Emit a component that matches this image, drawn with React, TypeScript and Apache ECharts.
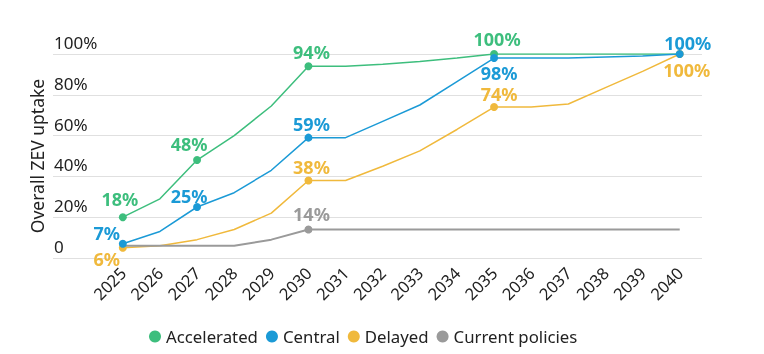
import React, { useEffect, useRef } from "react";
import * as echarts from "echarts";

const years = [2025, 2026, 2027, 2028, 2029, 2030, 2031, 2032, 2033, 2034, 2035, 2036, 2037, 2038, 2039, 2040];
const accelerated = [20, 29, 48, 60, 74.5, 94, 94, 95, 96.3, 98, 100, 100, 100, 100, 100, 100];
const central = [7, 13, 25, 32, 43, 59, 59, 67, 75, 86.5, 98, 98, 98, 98.5, 99, 100];
const delayed = [5, 6, 9, 14, 22, 38, 38, 45, 52.5, 63, 74, 74, 75.5, 83.5, 91.5, 100];
const currentPolicies = [6, 6, 6, 6, 9, 14, 14, 14, 14, 14, 14, 14, 14, 14, 14, 14];

const accelLabels: Record<number, string> = { 2025: "18%", 2027: "48%", 2030: "94%", 2035: "100%" };
const centralLabels: Record<number, string> = { 2025: "7%", 2027: "25%", 2030: "59%", 2035: "98%", 2040: "100%" };
const delayedLabels: Record<number, string> = { 2025: "6%", 2030: "38%", 2035: "74%", 2040: "100%" };
const currentLabels: Record<number, string> = { 2030: "14%" };

const yTicks = [0, 20, 40, 60, 80, 100];
const seriesNames = ["Accelerated", "Central", "Delayed", "Current policies"];

// styles (label offsets relative to the point, in px)
const accelOffsets: Record<number, number[]> = { 2025: [-3, -18], 2027: [-8, -16], 2030: [3, -14], 2035: [3, -15] };
const centralOffsets: Record<number, number[]> = { 2025: [-16, -11], 2027: [-8, -11], 2030: [3, -14], 2035: [5, 15], 2040: [8, -11] };
const delayedOffsets: Record<number, number[]> = { 2025: [-16, 11], 2030: [3, -13], 2035: [5, -13], 2040: [7, 16] };
const currentOffsets: Record<number, number[]> = { 2030: [3, -15] };

const COLORS = ["#3dbe7d", "#1b9ad6", "#f0b93c", "#9a9a9a"];
const FONT = "Noto Sans";

function buildData(values: number[], labels: Record<number, string>, offsets: Record<number, number[]>, color: string) {
  return years.map((yr, i) => {
    const txt = labels[yr];
    if (txt === undefined) {
      return { value: [yr, values[i]], symbol: "none", label: { show: false } };
    }
    return {
      value: [yr, values[i]],
      symbol: "circle",
      symbolSize: 8,
      label: {
        show: true,
        position: "inside",
        offset: offsets[yr] || [0, 0],
        formatter: txt,
        color,
        fontSize: 18,
        fontWeight: "bold",
        fontFamily: FONT,
      },
    };
  });
}

export default function App() {
  const ref = useRef<HTMLDivElement>(null);
  useEffect(() => {
    if (!ref.current) return;
    const chart = echarts.init(ref.current, undefined, { renderer: "svg" });
    const mk = (idx: number, values: number[], labels: Record<number, string>, offsets: Record<number, number[]>, z: number, width: number) => ({
      name: seriesNames[idx],
      type: "line",
      data: buildData(values, labels, offsets, COLORS[idx]),
      color: COLORS[idx],
      lineStyle: { width, color: COLORS[idx] },
      itemStyle: { color: COLORS[idx] },
      showAllSymbol: true,
      z,
      emphasis: { disabled: true },
    });
    chart.setOption({
      animation: false,
      textStyle: { fontFamily: FONT },
      grid: { left: 53, right: 62, top: 54, bottom: 96, containLabel: false },
      legend: {
        data: seriesNames.map((n, i) => ({ name: n, itemStyle: { color: COLORS[i] } })),
        left: 149,
        top: 328,
        padding: 0,
        icon: "circle",
        itemWidth: 12,
        itemHeight: 12,
        itemGap: 8,
        textStyle: { fontSize: 16.8, color: "#222", fontFamily: FONT },
      },
      xAxis: {
        type: "value",
        min: 2023.12,
        max: 2040.6,
        axisLine: { show: false },
        axisTick: { show: false },
        splitLine: { show: false },
        axisLabel: {
          customValues: years,
          rotate: 45,
          margin: 12,
          fontSize: 16.5,
          color: "#222",
          fontFamily: FONT,
          formatter: (v: number) => String(v),
        },
      },
      yAxis: {
        type: "value",
        min: 0,
        max: 100,
        interval: 20,
        name: "Overall ZEV uptake",
        nameLocation: "middle",
        nameGap: 7,
        nameMoveOverlap: false,
        nameTextStyle: { fontSize: 17.5, color: "#222", fontFamily: FONT },
        axisLine: { show: false },
        axisTick: { show: false },
        splitLine: { show: true, lineStyle: { color: "#e0e0e0", width: 1 } },
        axisLabel: {
          inside: true,
          margin: 1,
          verticalAlign: "bottom",
          padding: [0, 0, 3, 0],
          fontSize: 17,
          color: "#222",
          fontFamily: FONT,
          formatter: (v: number) => (yTicks.includes(v) && v !== 0 ? v + "%" : "0"),
        },
      },
      series: [
        mk(2, delayed, delayedLabels, delayedOffsets, 2, 1.5),
        mk(3, currentPolicies, currentLabels, currentOffsets, 3, 2),
        mk(0, accelerated, accelLabels, accelOffsets, 4, 1.5),
        mk(1, central, centralLabels, centralOffsets, 5, 1.5),
      ],
    });
    return () => chart.dispose();
  }, []);
  return <div ref={ref} style={{ position: "fixed", left: 0, top: 0, width: 764, height: 354 }} />;
}
